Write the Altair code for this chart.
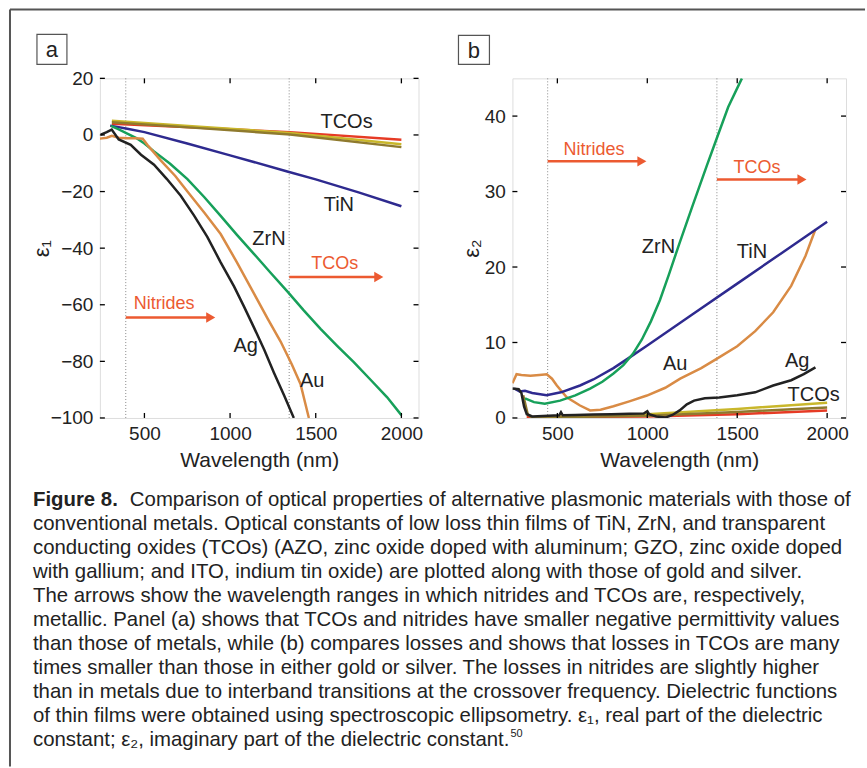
import altair as alt
import pandas as pd

FONT = "Liberation Sans, Arial, Helvetica, sans-serif"
RED = "#ec5a31"

# ---------------- Panel a (epsilon_1) ----------------
a_ag_nm = [245, 280, 309, 350, 420, 480, 556, 630, 712, 790, 867, 945, 1023, 1080, 1139, 1200, 1256, 1315, 1372]
a_ag_v = [0.1, 1.0, 1.9, -1.6, -3.5, -7, -10.5, -15.5, -21.5, -28.5, -36, -45, -53.5, -60.5, -68, -76, -84, -92, -100]
a_au_nm = [240, 280, 310, 350, 400, 450, 490, 517, 560, 595, 680, 751, 850, 945, 1040, 1139, 1220, 1295, 1360, 1411, 1460]
a_au_v = [-1.3, -1.0, -0.3, -1.0, -1.2, -1.2, -1.3, -3.5, -6.5, -9, -14.5, -20, -27.5, -35, -45, -56, -65, -73, -81, -88, -100]
a_zrn_nm = [305, 350, 400, 450, 500, 556, 650, 751, 850, 945, 1040, 1139, 1235, 1334, 1430, 1528, 1625, 1722, 1820, 1917, 2000]
a_zrn_v = [3.2, 2.0, 0.5, -1.0, -3.0, -5.8, -10.2, -15.6, -22, -28.6, -35.3, -42, -48.6, -55.3, -62, -68.5, -74.5, -80.3, -86.5, -92.7, -99]
a_tin_nm = [300, 400, 500, 750, 1000, 1334, 1500, 1750, 2000]
a_tin_v = [3.3, 2.2, 1.0, -3.0, -7.2, -12.9, -15.7, -20.3, -25.2]
a_tco1_nm = [310, 800, 1350, 2000]
a_tco1_v = [4.0, 2.6, 1.0, -1.7]
a_tco2_nm = [310, 800, 1350, 2000]
a_tco2_v = [5.0, 3.0, 0.7, -3.3]
a_tco3_nm = [310, 800, 1350, 2000]
a_tco3_v = [4.5, 2.5, 0.2, -4.3]

# ---------------- Panel b (epsilon_2) ----------------
b_zrn_nm = [320, 370, 430, 515, 600, 682, 750, 812, 867, 920, 970, 1020, 1070, 1120, 1174, 1250, 1332, 1390, 1450, 1526]
b_zrn_v = [2.6, 2.1, 1.9, 2.3, 3.0, 3.9, 4.8, 5.9, 7.0, 8.5, 10.4, 12.8, 15.6, 19.0, 22.8, 28.0, 33.5, 37.3, 41.2, 45]
b_tin_nm = [260, 290, 320, 360, 440, 520, 626, 700, 812, 900, 1000, 1250, 1500, 1750, 2000]
b_tin_v = [3.9, 3.5, 3.6, 3.3, 3.0, 3.4, 4.3, 5.1, 6.6, 8.0, 9.6, 13.7, 17.8, 21.9, 26.0]
b_au_nm = [250, 273, 300, 350, 400, 441, 470, 497, 552, 626, 682, 740, 812, 900, 998, 1100, 1183, 1300, 1390, 1500, 1600, 1700, 1800, 1880, 1935]
b_au_v = [4.6, 5.8, 5.7, 5.6, 5.7, 5.8, 5.2, 4.3, 2.75, 1.65, 1.0, 1.1, 1.55, 2.2, 2.97, 4.0, 5.2, 6.6, 7.9, 9.5, 11.5, 14.0, 17.5, 21.5, 25.0]
b_ag_nm = [250, 285, 300, 315, 330, 360, 450, 510, 520, 530, 600, 700, 800, 900, 980, 1000, 1010, 1050, 1100, 1140, 1180, 1220, 1260, 1320, 1400, 1500, 1600, 1700, 1800, 1870, 1935]
b_ag_v = [3.9, 3.8, 3.3, 1.5, 0.5, 0.2, 0.3, 0.35, 0.75, 0.35, 0.4, 0.45, 0.5, 0.55, 0.6, 0.9, 0.5, 0.2, 0.05, 0.4, 1.0, 1.8, 2.3, 2.6, 2.7, 3.0, 3.4, 4.3, 5.0, 5.8, 6.7]
b_tco1_nm = [330, 1000, 1500, 2000]
b_tco1_v = [0.1, 0.2, 0.5, 1.0]
b_tco2_nm = [330, 1000, 1500, 2000]
b_tco2_v = [0.05, 0.5, 1.2, 2.0]
b_tco3_nm = [310, 320, 335, 360, 1000, 1500, 2000]
b_tco3_v = [3.0, 2.0, 0.5, 0.05, 0.3, 0.8, 1.4]

ticks_x = [500, 1000, 1500, 2000]
a_ticks_y = [-100, -80, -60, -40, -20, 0, 20]
b_ticks_y = [0, 10, 20, 30, 40]

a_dots = [391, 1345]
b_dots = [446, 1387]

a_labels = ["TCOs", "TiN", "ZrN", "Ag", "Au"]
a_labels_nm = [1680, 1635, 1227, 1091, 1479]
a_labels_v = [4.7, -24.6, -36.9, -74.5, -86.8]
b_labels = ["ZrN", "TiN", "Au", "Ag", "TCOs"]
b_labels_nm = [1062, 1582, 1155, 1833, 1925]
b_labels_v = [22.7, 22.0, 7.2, 7.6, 3.0]

a_arrow_text = ["Nitrides", "TCOs"]
a_arrow_text_nm = [615, 1611]
a_arrow_text_v = [-59.6, -45.7]
a_arrow_from = [391, 1345]
a_arrow_to = [887, 1868]
a_arrow_v = [-64.5, -50.2]
b_arrow_text = ["Nitrides", "TCOs"]
b_arrow_text_nm = [704, 1610]
b_arrow_text_v = [35.5, 33.1]
b_arrow_from = [446, 1387]
b_arrow_to = [970, 1860]
b_arrow_v = [34.0, 31.6]

caption_bold = "Figure 8."
caption_first = "Comparison of optical properties of alternative plasmonic materials with those of"
caption_rest = [
    "conventional metals. Optical constants of low loss thin films of TiN, ZrN, and transparent",
    "conducting oxides (TCOs) (AZO, zinc oxide doped with aluminum; GZO, zinc oxide doped",
    "with gallium; and ITO, indium tin oxide) are plotted along with those of gold and silver.",
    "The arrows show the wavelength ranges in which nitrides and TCOs are, respectively,",
    "metallic. Panel (a) shows that TCOs and nitrides have smaller negative permittivity values",
    "than those of metals, while (b) compares losses and shows that losses in TCOs are many",
    "times smaller than those in either gold or silver. The losses in nitrides are slightly higher",
    "than in metals due to interband transitions at the crossover frequency. Dielectric functions",
    "of thin films were obtained using spectroscopic ellipsometry. \u03b5\u2081, real part of the dielectric",
    "constant; \u03b5\u2082, imaginary part of the dielectric constant.",
]
caption_ref = "50"

C_AG, C_AU, C_ZRN, C_TIN = "#222222", "#d98b45", "#17a05a", "#2e2a8f"
CAP_FS = 20.4


def make_df(series):
    rows = []
    for name, xs, ys in series:
        for x, y in zip(xs, ys):
            rows.append({"s": name, "nm": x, "v": y})
    return pd.DataFrame(rows)


def panel(series, colors, xdom, ydom, w, h, yticks, ytitle, ytitle_x, dots,
          labels, lnm, lv, atext, atnm, atv, afrom, ato, av, letter, box):
    df = make_df(series)
    names = [s[0] for s in series]
    xs = alt.Scale(domain=xdom, nice=False, zero=False)
    ys = alt.Scale(domain=ydom, nice=False, zero=False)
    lines = alt.Chart(df).mark_line(strokeWidth=2.5, clip=True).encode(
        x=alt.X("nm:Q", scale=xs, axis=alt.Axis(
            values=ticks_x, format="d", ticks=False, domain=False, grid=False, labelFontSize=19,
            labelFont=FONT, labelColor="#222", labelPadding=7, labelFlush=False,
            title="Wavelength (nm)", titleFont=FONT, titleFontSize=21, titleFontWeight="normal",
            titleColor="#222", titleX=w / 2, titleY=49, titleBaseline="alphabetic")),
        y=alt.Y("v:Q", scale=ys, axis=alt.Axis(
            values=yticks, format="d", ticks=False, domain=False, grid=False, labelFontSize=19,
            labelFont=FONT, labelColor="#222", labelPadding=7, labelFlush=False,
            title=ytitle, titleFont=FONT, titleFontSize=22, titleFontWeight="normal",
            titleColor="#222", titleX=ytitle_x, titleY=h / 2, titleAngle=270,
            titleBaseline="middle", titleAlign="center")),
        color=alt.Color("s:N", scale=alt.Scale(domain=names, range=colors), legend=None),
    )
    dotted = alt.Chart(pd.DataFrame({"nm": dots})).mark_rule(
        color="#8a8a8a", strokeWidth=1, strokeDash=[1, 2]).encode(x=alt.X("nm:Q", scale=xs))
    tx = pd.DataFrame({"nm": ticks_x})
    ty = pd.DataFrame({"v": yticks})
    tk = dict(color="black", strokeWidth=1.3)
    t_bot = alt.Chart(tx).mark_rule(**tk).encode(x="nm:Q", y=alt.value(h), y2=alt.value(h - 5))
    t_top = alt.Chart(tx).mark_rule(**tk).encode(x="nm:Q", y=alt.value(0), y2=alt.value(5))
    t_left = alt.Chart(ty).mark_rule(**tk).encode(y="v:Q", x=alt.value(0), x2=alt.value(5))
    t_right = alt.Chart(ty).mark_rule(**tk).encode(y="v:Q", x=alt.value(w), x2=alt.value(w - 5))
    lab = alt.Chart(pd.DataFrame({"t": labels, "nm": lnm, "v": lv})).mark_text(
        font=FONT, fontSize=20, color="#222").encode(x="nm:Q", y="v:Q", text="t:N")
    adf = pd.DataFrame({"t": atext, "nm": atnm, "v": atv, "x0": afrom, "x1": ato, "y": av})
    atxt = alt.Chart(adf).mark_text(font=FONT, fontSize=18, color=RED).encode(
        x="nm:Q", y="v:Q", text="t:N")
    arule = alt.Chart(adf).mark_rule(color=RED, strokeWidth=2.5).encode(
        x="x0:Q", x2="x1:Q", y="y:Q")
    ahead = alt.Chart(adf).mark_point(shape="triangle-right", filled=True, size=110,
                                      color=RED, opacity=1).encode(x="x1:Q", y="y:Q")
    one = pd.DataFrame({"t": [letter]})
    lbox = alt.Chart(one).mark_rect(filled=False, stroke="#555", strokeWidth=1.2).encode(
        x=alt.value(box[0]), x2=alt.value(box[1]), y=alt.value(box[2]), y2=alt.value(box[3]))
    ltxt = alt.Chart(one).mark_text(font=FONT, fontSize=22, color="#222", baseline="middle").encode(
        x=alt.value((box[0] + box[1]) / 2), y=alt.value((box[2] + box[3]) / 2 + 1), text="t:N")
    layers = [dotted, lines, t_bot, t_top, t_left, t_right, lab, arule, ahead, atxt, lbox, ltxt]
    return layers


a_series = [
    ("TCO1", a_tco1_nm, a_tco1_v), ("TCO2", a_tco2_nm, a_tco2_v), ("TCO3", a_tco3_nm, a_tco3_v),
    ("TiN", a_tin_nm, a_tin_v), ("ZrN", a_zrn_nm, a_zrn_v), ("Au", a_au_nm, a_au_v), ("Ag", a_ag_nm, a_ag_v),
]
a_colors = ["#e63b25", "#c9b72b", "#8f7a2e", C_TIN, C_ZRN, C_AU, C_AG]
b_series = [
    ("TCO2", b_tco2_nm, b_tco2_v), ("TCO1", b_tco1_nm, b_tco1_v), ("TCO3", b_tco3_nm, b_tco3_v),
    ("Au", b_au_nm, b_au_v), ("TiN", b_tin_nm, b_tin_v), ("ZrN", b_zrn_nm, b_zrn_v), ("Ag", b_ag_nm, b_ag_v),
]
b_colors = ["#c4c62c", "#e63b25", "#a8297b", C_AU, C_TIN, C_ZRN, C_AG]

WA, HA = 319, 340
WB, HB = 334, 340

la = panel(a_series, a_colors, [240, 2100], [-100, 20], WA, HA, a_ticks_y, "\u03b5\u2081", -58, a_dots,
           a_labels, a_labels_nm, a_labels_v, a_arrow_text, a_arrow_text_nm, a_arrow_text_v,
           a_arrow_from, a_arrow_to, a_arrow_v, "a", (-63, -33, -44, -14))
lb = panel(b_series, b_colors, [250, 2105], [0, 45], WB, HB, b_ticks_y, "\u03b5\u2082", -41, b_dots,
           b_labels, b_labels_nm, b_labels_v, b_arrow_text, b_arrow_text_nm, b_arrow_text_v,
           b_arrow_from, b_arrow_to, b_arrow_v, "b", (-54, -23, -43, -14))

# frame lines and caption (pixel positions relative to panel a plot origin)
one = pd.DataFrame({"t": ["x"]})
frame_v = alt.Chart(one).mark_rule(color="#555", strokeWidth=2).encode(
    x=alt.value(-90), y=alt.value(-69), y2=alt.value(689))
frame_h = alt.Chart(one).mark_rule(color="#555", strokeWidth=2).encode(
    x=alt.value(-90), x2=alt.value(766), y=alt.value(-69))
cap_b = alt.Chart(pd.DataFrame({"t": [caption_bold]})).mark_text(
    font=FONT, fontSize=CAP_FS, fontWeight="bold", color="#222", align="left", baseline="alphabetic").encode(
    x=alt.value(-67), y=alt.value(428), text="t:N")
cap_1 = alt.Chart(pd.DataFrame({"t": [caption_first]})).mark_text(
    font=FONT, fontSize=CAP_FS, color="#222", align="left", baseline="alphabetic").encode(
    x=alt.value(30), y=alt.value(428), text="t:N")
cap_r = alt.Chart(pd.DataFrame({"t": ["\n".join(caption_rest)]})).mark_text(
    font=FONT, fontSize=CAP_FS, color="#222", align="left", baseline="alphabetic",
    lineBreak="\n", lineHeight=24).encode(
    x=alt.value(-67), y=alt.value(452), text="t:N")
cap_sup = alt.Chart(pd.DataFrame({"t": [caption_ref]})).mark_text(
    font=FONT, fontSize=11, color="#222", align="left", baseline="alphabetic").encode(
    x=alt.value(411), y=alt.value(452 + 9 * 24 - 9), text="t:N")

pa = alt.layer(frame_v, frame_h, *la, cap_b, cap_1, cap_r, cap_sup).properties(width=WA, height=HA)
pb = alt.layer(*lb).properties(width=WB, height=HB)

chart = alt.hconcat(pa, pb, spacing=94, bounds="flush").properties(
    padding={"left": 8, "top": 7, "right": 0, "bottom": 0}
).configure_view(stroke="black", strokeWidth=1.3).configure(background="white")

chart.save("out.html", embed_options={"renderer": "svg", "actions": False})
